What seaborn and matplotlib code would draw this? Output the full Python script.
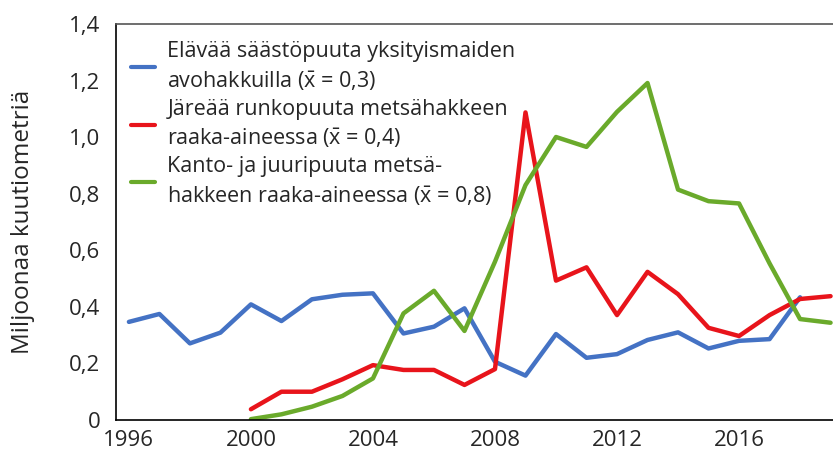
import matplotlib
matplotlib.use("Agg")
import matplotlib.pyplot as plt
import seaborn as sns
import pandas as pd
import numpy as np
from matplotlib.ticker import FuncFormatter

years_blue = list(range(1996, 2019))
blue = [0.347, 0.375, 0.271, 0.309, 0.409, 0.350, 0.427, 0.443, 0.448, 0.306,
        0.330, 0.395, 0.206, 0.157, 0.304, 0.220, 0.233, 0.283, 0.310, 0.253,
        0.280, 0.286, 0.434]

years_red = list(range(2000, 2020))
red = [0.038, 0.100, 0.100, 0.144, 0.194, 0.177, 0.177, 0.124, 0.180, 1.088,
       0.493, 0.540, 0.371, 0.524, 0.445, 0.326, 0.297, 0.371, 0.428, 0.438]

years_green = list(range(2000, 2020))
green = [0.003, 0.020, 0.047, 0.085, 0.147, 0.377, 0.457, 0.315, 0.560, 0.831,
         1.001, 0.966, 1.090, 1.192, 0.815, 0.774, 0.766, 0.554, 0.357, 0.344]

FONT = "Open Sans"
sns.set_style("white")
plt.rcParams["font.family"] = [FONT, "DejaVu Sans"]
plt.rcParams["mathtext.fontset"] = "custom"
plt.rcParams["mathtext.rm"] = FONT
plt.rcParams["mathtext.it"] = FONT

xbar = r"$\bar{\mathrm{x}}$"
labels = [
    "Elävää säästöpuuta yksityismaiden\navohakkuilla (" + xbar + " = 0,3)",
    "Järeää runkopuuta metsähakkeen\nraaka-aineessa (" + xbar + " = 0,4)",
    "Kanto- ja juuripuuta metsä-\nhakkeen raaka-aineessa (" + xbar + " = 0,8)",
]
colors = ["#4472C4", "#E8141B", "#6AAA2B"]

df = pd.concat([
    pd.DataFrame({"Vuosi": years_blue, "Määrä": blue, "Sarja": labels[0]}),
    pd.DataFrame({"Vuosi": years_red, "Määrä": red, "Sarja": labels[1]}),
    pd.DataFrame({"Vuosi": years_green, "Määrä": green, "Sarja": labels[2]}),
])

fig = plt.figure(figsize=(8.33, 4.57), dpi=100)
ax = fig.add_axes([0.139, 0.081, 0.861, 0.866])

sns.lineplot(data=df, x="Vuosi", y="Määrä", hue="Sarja", hue_order=labels,
             palette=colors, linewidth=3.2, ax=ax)

ax.set_xlim(1995.57, 2019.08)
ax.set_ylim(0, 1.4)
ax.set_xticks([1996, 2000, 2004, 2008, 2012, 2016])
ax.set_yticks(np.arange(0, 1.41, 0.2))
ax.yaxis.set_major_formatter(FuncFormatter(
    lambda v, p: "0" if abs(v) < 1e-9 else f"{v:.1f}".replace(".", ",")))
ax.tick_params(axis="both", length=0, labelsize=16)
ax.tick_params(axis="y", pad=11)
ax.tick_params(axis="x", pad=7)
ax.set_xlabel("")
ax.set_ylabel("Miljoonaa kuutiometriä", fontsize=17.5)
ax.yaxis.set_label_coords(-0.112, 0.5)

for side in ["left", "bottom"]:
    ax.spines[side].set_color("black")
    ax.spines[side].set_linewidth(1.2)
ax.spines["top"].set_color("#555555")
ax.spines["top"].set_linewidth(1.2)
ax.spines["right"].set_visible(False)

leg = ax.legend(loc="upper left", bbox_to_anchor=(0.0, 0.995), frameon=False,
                fontsize=15.5, handlelength=1.1, handletextpad=0.6,
                labelspacing=0.28, borderaxespad=0.3)
for line in leg.get_lines():
    line.set_linewidth(3)
for txt in leg.get_texts():
    txt.set_linespacing(1.4)

fig.savefig("out.png", dpi=100)
